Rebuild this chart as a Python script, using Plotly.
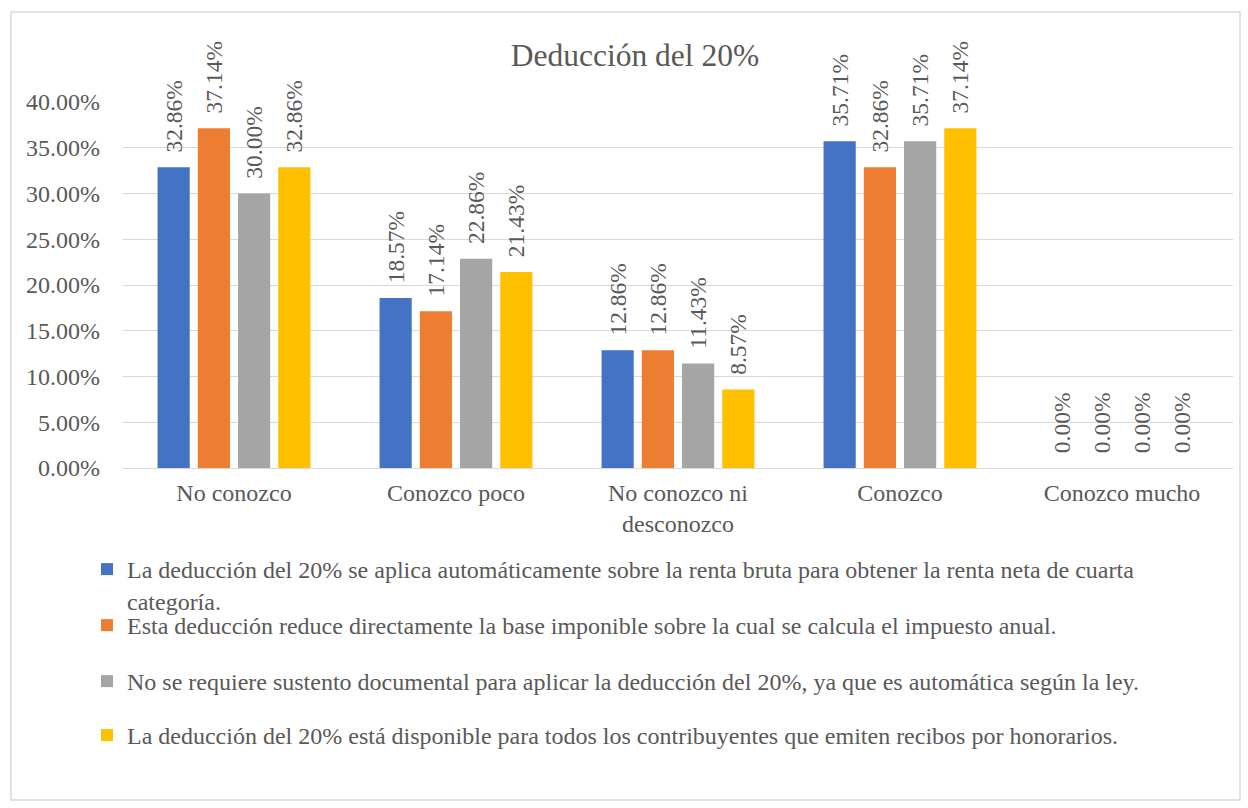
import plotly.graph_objects as go

# Survey categories (x axis)
categories = ["No conozco", "Conozco poco", "No conozco ni<br>desconozco", "Conozco", "Conozco mucho"]

# Statements (legend entries)
statements = [
    "La deducción del 20% se aplica automáticamente sobre la renta bruta para obtener la renta neta de cuarta<br>categoría.",
    "Esta deducción reduce directamente la base imponible sobre la cual se calcula el impuesto anual.",
    "No se requiere sustento documental para aplicar la deducción del 20%, ya que es automática según la ley.",
    "La deducción del 20% está disponible para todos los contribuyentes que emiten recibos por honorarios.",
]

# Share of answers per statement
s1 = [0.3286, 0.1857, 0.1286, 0.3571, 0.0]
s2 = [0.3714, 0.1714, 0.1286, 0.3286, 0.0]
s3 = [0.3000, 0.2286, 0.1143, 0.3571, 0.0]
s4 = [0.3286, 0.2143, 0.0857, 0.3714, 0.0]
series = [s1, s2, s3, s4]

colors = ["#4472C4", "#ED7D31", "#A5A5A5", "#FFC000"]
FONT = "Liberation Serif"
GREY = "#595959"
FS = 24

W, H = 1248, 808
L, R, T, B = 123, 15, 102, 340
pw, ph = W - L - R, H - T - B

def px_x(p):
    return (p - L) / pw

def px_y(p):
    return (H - B - p) / ph

legend_ids = ["legend", "legend2", "legend3", "legend4"]
legend_tops = [547, 603, 659, 713]

fig = go.Figure()
for name, vals, col, lid in zip(statements, series, colors, legend_ids):
    fig.add_trace(go.Bar(
        x=categories, y=vals, name=name, legend=lid,
        marker=dict(color=col, line=dict(width=0)),
        texttemplate="\u00a0\u00a0%{y:.2%}",
        textposition="outside", textangle=-90,
        textfont=dict(family=FONT, size=23.5, color=GREY),
        constraintext="none", cliponaxis=False,
        hoverinfo="skip",
    ))

legend_layout = {
    lid: dict(
        orientation="v", x=px_x(87), xanchor="left", y=px_y(top), yanchor="top",
        font=dict(family=FONT, size=FS, color=GREY),
        valign="top", itemclick=False, bgcolor="rgba(0,0,0,0)",
    )
    for lid, top in zip(legend_ids, legend_tops)
}

fig.update_layout(
    width=W, height=H,
    margin=dict(l=L, r=R, t=T, b=B, pad=0),
    paper_bgcolor="white", plot_bgcolor="white",
    barmode="group", bargap=0.275, bargroupgap=0.2,
    font=dict(family=FONT, size=FS, color=GREY),
    title=dict(text="Deducción del 20%", font=dict(family=FONT, size=31.5, color=GREY),
               x=635 / W, xref="container", xanchor="center",
               y=1 - 55 / H, yref="container", yanchor="middle"),
    showlegend=True,
    xaxis=dict(showgrid=False, showline=False, ticks="", zeroline=False,
               ticklabelstandoff=8,
               tickfont=dict(family=FONT, size=FS, color=GREY)),
    yaxis=dict(range=[0, 0.40], dtick=0.05, tickformat=".2%",
               showgrid=True, gridcolor="#D9D9D9", gridwidth=1,
               zeroline=True, zerolinecolor="#D9D9D9", zerolinewidth=1,
               showline=False, ticks="", ticklabelstandoff=22,
               tickfont=dict(family=FONT, size=FS, color=GREY)),
    shapes=[dict(type="rect", xref="paper", yref="paper",
                 x0=px_x(11), x1=px_x(1240), y0=px_y(800), y1=px_y(12),
                 line=dict(color="#D9D9D9", width=1.5), fillcolor="rgba(0,0,0,0)",
                 layer="below")],
    **legend_layout,
)

fig.write_html("out.html")
